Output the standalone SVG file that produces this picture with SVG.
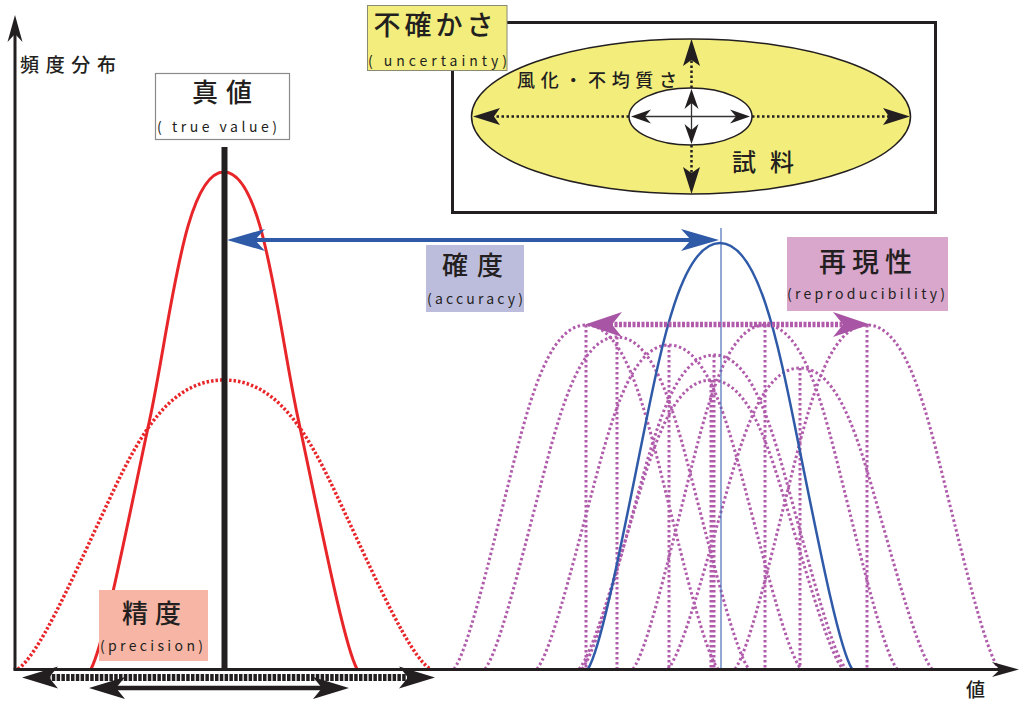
<svg xmlns="http://www.w3.org/2000/svg" width="1021" height="701" viewBox="0 0 1021 701">
<style>
.jp{font-family:'Noto Sans CJK JP','Noto Sans',sans-serif;fill:#231f20;font-weight:500}
.lat{font-family:'Noto Sans CJK JP','Noto Sans',sans-serif;fill:#231f20;font-size:14px}
.pdot{fill:none;stroke:#b05cab;stroke-width:3;stroke-dasharray:2.5 2.5}
.rdot{fill:none;stroke:#e8262a;stroke-width:3.5;stroke-dasharray:2.5 2}
.rsol{fill:none;stroke:#e8262a;stroke-width:3}
.bsol{fill:none;stroke:#2f5aa8;stroke-width:2.5}
.edot{fill:none;stroke:#231f20;stroke-width:2.5;stroke-dasharray:2.5 2.5}
.esol{fill:none;stroke:#333;stroke-width:1.3}
</style>
<defs>
<marker id="mAxis" viewBox="-28 -9 29 18" refX="-17" refY="0" markerWidth="29" markerHeight="18" markerUnits="userSpaceOnUse" orient="auto-start-reverse" overflow="visible"><path d="M0,0 L-27,-7.5 L-19,0 L-27,7.5 Z" fill="#231f20"/></marker>
<marker id="mBig" viewBox="-37 -12 38 24" refX="-25" refY="0" markerWidth="38" markerHeight="24" markerUnits="userSpaceOnUse" orient="auto-start-reverse" overflow="visible"><path d="M0,0 L-36,-11 L-27,0 L-36,11 Z" fill="#231f20"/></marker>
<marker id="mBlue" viewBox="-39 -12 40 24" refX="-26" refY="0" markerWidth="40" markerHeight="24" markerUnits="userSpaceOnUse" orient="auto-start-reverse" overflow="visible"><path d="M0,0 L-38,-11 L-28,0 L-38,11 Z" fill="#2f5aa8"/></marker>
<marker id="mPur" viewBox="-38 -13 39 26" refX="-25" refY="0" markerWidth="39" markerHeight="26" markerUnits="userSpaceOnUse" orient="auto-start-reverse" overflow="visible"><path d="M0,0 L-37,-12.5 L-27,0 L-37,12.5 Z" fill="#a955a5"/></marker>
<marker id="mEll" viewBox="-28 -9 29 18" refX="-19" refY="0" markerWidth="29" markerHeight="18" markerUnits="userSpaceOnUse" orient="auto-start-reverse" overflow="visible"><path d="M0,0 L-27,-8.5 L-21,0 L-27,8.5 Z" fill="#231f20"/></marker>
<marker id="mEllS" viewBox="-21 -8 22 16" refX="-12" refY="0" markerWidth="22" markerHeight="16" markerUnits="userSpaceOnUse" orient="auto-start-reverse" overflow="visible"><path d="M0,0 L-20,-7 L-14,0 L-20,7 Z" fill="#231f20"/></marker>
</defs>
<rect width="1021" height="701" fill="#ffffff"/>

<g id="reproducibility-curves">
<path class="pdot" d="M454,669 C467.2,651.8 487,569.2 506.8,490.1 S546.4,325 586,325 S645.4,411 665.2,490.1 S704.8,651.8 718,669"/>
<path class="pdot" d="M485,669 C498.2,652.4 518,572.7 537.8,496.4 S577.4,337 617,337 S676.4,420 696.2,496.4 S735.8,652.4 749,669"/>
<path class="pdot" d="M537,669 C550.2,652.8 570,575 589.8,500.5 S629.4,345 669,345 S728.4,426 748.2,500.5 S787.8,652.8 801,669"/>
<path class="pdot" d="M582,669 C595.2,653.3 615,577.9 634.8,505.7 S674.4,355 714,355 S773.4,433.5 793.2,505.7 S832.8,653.3 846,669"/>
<path class="pdot" d="M579,669 C592.2,654.6 612,585.2 631.8,518.7 S671.4,380 711,380 S770.4,452.3 790.2,518.7 S829.8,654.6 843,669"/>
<path class="pdot" d="M633,669 C646.2,651.8 666,569.2 685.8,490.1 S725.4,325 765,325 S824.4,411 844.2,490.1 S883.8,651.8 897,669"/>
<path class="pdot" d="M668,669 C681.2,654 701,581.7 720.8,512.5 S760.4,368 800,368 S859.4,443.3 879.2,512.5 S918.8,654 932,669"/>
<path class="pdot" d="M735,669 C748.2,651.8 768,569.2 787.8,490.1 S827.4,325 867,325 S926.4,411 946.2,490.1 S985.8,651.8 999,669"/>
<path class="pdot" d="M586,325 V669 M617,337 V669 M669,345 V669 M714,355 V669 M711,380 V669 M765,325 V669 M800,368 V669 M867,325 V669"/>
</g>

<g id="precision-curves">
<path class="rdot" d="M18,669 C38.6,654.6 69.5,585.2 100.4,518.7 S162.2,380 224,380 S316.7,452.3 347.6,518.7 S409.4,654.6 430,669"/>
<path class="rsol" d="M91,669 C104.3,644.2 128.2,519.9 149.5,420.5 S184.1,172 224,172 S277.2,321.1 298.5,420.5 S343.7,644.2 357,669"/>
</g>

<g id="accuracy-curve">
<line x1="721" y1="228" x2="721" y2="669" stroke="#4a6fb8" stroke-width="1.2"/>
<path class="bsol" d="M588,669 C601.2,647.7 621,545.5 640.8,447.5 S680.4,243 720,243 S779.4,349.5 799.2,447.5 S838.8,647.7 852,669"/>
</g>

<g id="true-value-line">
<line x1="224.5" y1="147" x2="224.5" y2="669" stroke="#231f20" stroke-width="6"/>
</g>

<g id="connectors">
<line x1="15" y1="669.5" x2="15" y2="32" stroke="#231f20" stroke-width="3" marker-end="url(#mAxis)"/>
<line x1="13.5" y1="669.5" x2="1002" y2="669.5" stroke="#231f20" stroke-width="3" marker-end="url(#mAxis)"/>
<line x1="253" y1="240" x2="693" y2="240" stroke="#2f5aa8" stroke-width="4" marker-start="url(#mBlue)" marker-end="url(#mBlue)"/>
<line x1="610" y1="324.5" x2="845" y2="324.5" stroke="#b05cab" stroke-width="5.5" stroke-dasharray="3 1.5" marker-start="url(#mPur)" marker-end="url(#mPur)"/>
<line x1="47" y1="677.5" x2="410" y2="677.5" stroke="#231f20" stroke-width="7" stroke-dasharray="3.5 1.3" marker-start="url(#mBig)" marker-end="url(#mBig)"/>
<line x1="114" y1="688" x2="324" y2="688" stroke="#231f20" stroke-width="4.5" marker-start="url(#mBig)" marker-end="url(#mBig)"/>
</g>

<g id="uncertainty-frame">
<rect x="452.5" y="22.5" width="483" height="190" fill="#ffffff" stroke="#231f20" stroke-width="3"/>
</g>

<g id="sample">
<ellipse cx="691" cy="116.5" rx="219.5" ry="77.5" fill="#f3ee7c" stroke="#231f20" stroke-width="1.5"/>
<ellipse cx="690.5" cy="116.5" rx="61.5" ry="28.5" fill="#ffffff" stroke="#231f20" stroke-width="1.5"/>
<text class="jp" x="517" y="87" font-size="18" textLength="160" lengthAdjust="spacing">風化・不均質さ</text>
<text class="jp" x="732" y="171" font-size="24" textLength="62" lengthAdjust="spacing">試料</text>
</g>

<g id="sample-arrows">
<line class="edot" x1="629" y1="116.5" x2="492" y2="116.5" marker-end="url(#mEll)"/>
<line class="edot" x1="752" y1="116.5" x2="891" y2="116.5" marker-end="url(#mEll)"/>
<line class="edot" x1="691.5" y1="88" x2="691.5" y2="58" marker-end="url(#mEll)"/>
<line class="edot" x1="691.5" y1="145" x2="691.5" y2="175" marker-end="url(#mEll)"/>
<line class="esol" x1="643" y1="116.5" x2="738" y2="116.5" marker-start="url(#mEllS)" marker-end="url(#mEllS)"/>
<line class="esol" x1="691.5" y1="101" x2="691.5" y2="132" marker-start="url(#mEllS)" marker-end="url(#mEllS)"/>
</g>

<g id="label-uncertainty">
<rect x="367.5" y="5.5" width="139.5" height="65" fill="#f2ed7c" stroke="#8a8a70" stroke-width="1"/>
<text class="jp" x="373.5" y="35" font-size="27" textLength="120" lengthAdjust="spacing">不確かさ</text>
<text class="lat" x="368" y="66" font-size="15" textLength="139" lengthAdjust="spacing">( uncertainty)</text>
</g>

<g id="label-true-value">
<rect x="155.5" y="73.5" width="134" height="66" fill="#ffffff" stroke="#8a8a8a" stroke-width="1.2"/>
<text class="jp" x="192" y="102" font-size="26" textLength="60" lengthAdjust="spacing">真値</text>
<text class="lat" x="157" y="132" font-size="15" textLength="120" lengthAdjust="spacing">( true value)</text>
</g>

<g id="label-accuracy">
<rect x="426" y="245" width="98" height="67" fill="#bcbcdc"/>
<text class="jp" x="442" y="275" font-size="26" textLength="61" lengthAdjust="spacing">確度</text>
<text class="lat" x="427" y="304" textLength="96" lengthAdjust="spacing">(accuracy)</text>
</g>

<g id="label-reproducibility">
<rect x="787" y="237" width="161" height="74" fill="#d9a6cc"/>
<text class="jp" x="819" y="272" font-size="27" textLength="93" lengthAdjust="spacing">再現性</text>
<text class="lat" x="787" y="299" textLength="158" lengthAdjust="spacing">(reproducibility)</text>
</g>

<g id="label-precision">
<rect x="99" y="590" width="109" height="71" fill="#f7b6a5"/>
<text class="jp" x="122" y="623" font-size="26" textLength="59" lengthAdjust="spacing">精度</text>
<text class="lat" x="100" y="651" textLength="103" lengthAdjust="spacing">(precision)</text>
</g>

<g id="axis-labels">
<text class="jp" x="20" y="72" font-size="19" font-weight="400" textLength="96" lengthAdjust="spacing">頻度分布</text>
<text class="jp" x="966" y="697" font-size="19" font-weight="400">値</text>
</g>
</svg>
